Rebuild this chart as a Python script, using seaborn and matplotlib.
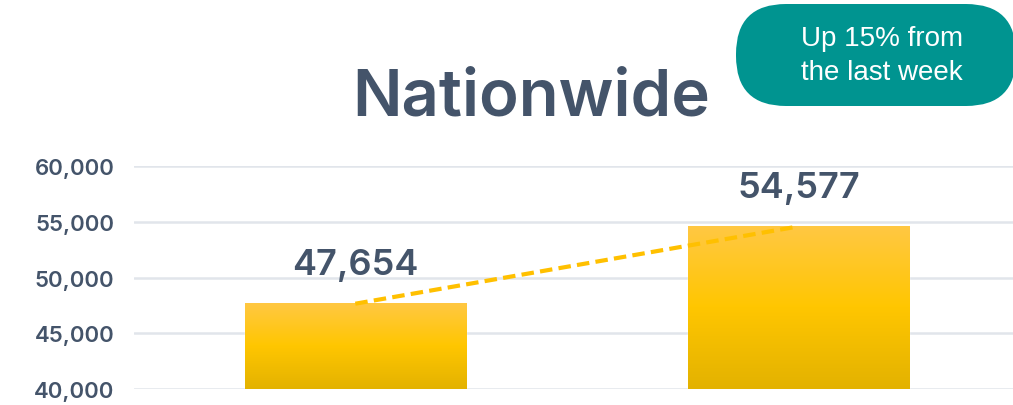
import numpy as np
import pandas as pd
import matplotlib.pyplot as plt
import seaborn as sns
from matplotlib.patches import FancyBboxPatch
from matplotlib.ticker import FuncFormatter
from matplotlib.colors import LinearSegmentedColormap

# Data
weeks = ["Last week", "This week"]
counts = [47654, 54577]
title = "Nationwide"
callout = "Up 15% from\nthe last week"

df = pd.DataFrame({"week": weeks, "count": counts})

sns.set_style("white")
plt.rcParams["font.family"] = ["Inter", "DejaVu Sans"]
text_col = "#44546A"
ymin, ymax = 40000, 60000

fig = plt.figure(figsize=(10.13, 4.06), dpi=100)
ax = fig.add_axes([0.132, 0.039, 0.875, 0.55])

sns.barplot(data=df, x="week", y="count", color="#FFC000", width=0.5, ax=ax)
ax.set_xlabel("")
ax.set_ylabel("")
ax.set_xticks([])
ax.set_yticks(range(ymin, ymax + 1, 5000))
ax.yaxis.set_major_formatter(FuncFormatter(lambda v, p: f"{int(v):,}"))
ax.grid(axis="y", color="#E1E5EB", linewidth=1.8)
ax.set_axisbelow(True)
sns.despine(ax=ax, left=True, bottom=True)
ax.tick_params(axis="y", length=0, pad=14, labelsize=16, labelcolor=text_col)
for lab in ax.get_yticklabels():
    lab.set_fontweight("semibold")

# gradient fill on bars (visible part only)
grad = np.linspace(0, 1, 256).reshape(-1, 1)
cmap = LinearSegmentedColormap.from_list("g", ["#E3B200", "#FFC600", "#FFC843"])
for bar in ax.patches:
    x0, w, h = bar.get_x(), bar.get_width(), bar.get_height()
    bar.set_facecolor("none")
    im = ax.imshow(grad, extent=[x0, x0 + w, ymin, h], origin="lower",
                   aspect="auto", cmap=cmap, zorder=2)
ax.set_xlim(-0.5, 1.5)
ax.set_ylim(ymin, ymax)

# dashed trend line between bar tops
ax.plot([0, 1], counts, linestyle=(0, (3, 1.5)), color="#FFC000", linewidth=3, zorder=5)

# value labels
for i, c in enumerate(counts):
    ax.annotate(f"{c:,}", (i, c), xytext=(0, 16), textcoords="offset points",
                ha="center", va="bottom", fontsize=26, fontweight="semibold", color=text_col)

# overlay in pixel coordinates for title and callout
ov = fig.add_axes([0, 0, 1, 1], zorder=10)
ov.set_xlim(0, 1013)
ov.set_ylim(406, 0)
ov.axis("off")
ov.patch.set_alpha(0)

ov.text(531, 99, title, ha="center", va="center", fontsize=47, color=text_col,
        fontweight="semibold")

box = FancyBboxPatch((736, 5), 280, 102, boxstyle="round,pad=0,rounding_size=50",
                     facecolor="#009490", edgecolor="none")
ov.add_patch(box)
ov.text(882, 56, callout, ha="center", va="center", fontsize=20,
        color="white", family=["Liberation Sans"], linespacing=1.35)

fig.savefig("out.png", dpi=100)
